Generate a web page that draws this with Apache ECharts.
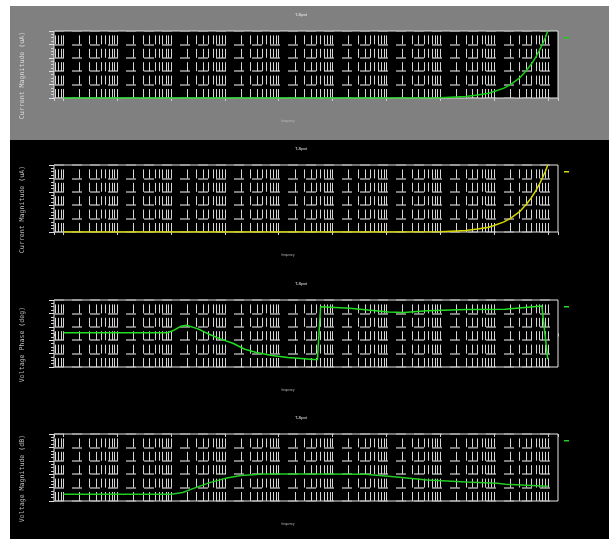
<!DOCTYPE html>
<html lang="en">
<head>
    <meta charset="UTF-8">
    <script type="text/javascript" src="https://cdn.jsdelivr.net/npm/echarts@6/dist/echarts.min.js"></script>
    <title>Port Response</title>
    <style>
        html, body { margin: 0; padding: 0; background: #ffffff; }
        #chart { width: 609px; height: 539px; }
    </style>
</head>
<body>
<div id="chart"></div>

<script>
    // frequency points (Hz) and values
    var freqCurrent = [1, 10, 100, 1e3, 1e4, 1e5, 1e6, 1e7, 3e7, 5e7, 8e7, 1e8, 1.5e8, 2e8, 3e8, 4e8, 5e8, 6e8, 7e8, 8e8, 9e8, 1e9];
    var currentMag1 = [0, 0, 0, 0, 0, 0, 0, 0.02, 0.12, 0.22, 0.35, 0.48, 0.72, 0.98, 1.5, 2.05, 2.55, 3.05, 3.55, 4.02, 4.5, 5.0];
    var currentMag2 = [0, 0, 0, 0, 0, 0, 0, 0.02, 0.12, 0.22, 0.36, 0.49, 0.74, 1.0, 1.52, 2.07, 2.58, 3.08, 3.58, 4.05, 4.52, 5.0];

    var freqPhase = [1, 10, 32, 85, 110, 151, 195, 316, 525, 871, 1413, 2344, 3890, 7586, 14791, 52481, 60256, 208930, 1.1e6, 2.14e6, 5.75e6, 3.09e7, 1.62e8, 7.76e8, 8.3e8, 1e9];
    var voltagePhase = [2, 2, 2, 2, 8.8, 21.5, 24.4, 13.8, -3, -17.6, -29, -47, -57, -65.7, -71.5, -78.5, 80, 75.6, 64, 62.6, 67.6, 71.5, 72.6, 82.4, 80, -76.5];

    var freqDb = [1, 100, 166, 270, 525, 1023, 1995, 5370, 39800, 407000, 1.1e6, 5.75e6, 3.09e7, 1.15e8, 1.62e8, 1e9];
    var voltageDb = [-44.9, -44.9, -43.6, -40.4, -36.3, -33.1, -30.9, -29.9, -29.9, -30.1, -31.6, -34.3, -35.8, -36.8, -37.5, -39.0];

    var yNames = ['Current Magnitude (uA)', 'Current Magnitude (uA)', 'Voltage Phase (deg)', 'Voltage Magnitude (dB)'];
    var yMin = [0, 0, -100, -50];
    var yMax = [5, 5, 100, 0];
    var yStep = [1, 1, 40, 10];

    var plotTitle = 'T-Spot';
    var xName = 'frequency';

    var freqMin = 0.67, freqMax = 1.55e9;

    // log grid lines at 1..9 of every decade
    var minorFreqs = [];
    for (var d = -1; d <= 9; d++) {
        for (var m = 1; m <= 9; m++) {
            var f = m * Math.pow(10, d);
            if (f > freqMin && f < freqMax) minorFreqs.push({xAxis: f});
        }
    }

    function pairs(xs, ys) {
        return xs.map(function (x, i) { return [x, ys[i]]; });
    }

    var tops = [31, 165, 300, 434];
    var lineColors = ['#18d018', '#d8d800', '#22dd22', '#22cc22'];
    var seriesNames = ['I1', 'I2', 'Vph', 'Vdb'];
    var seriesData = [
        pairs(freqCurrent, currentMag1),
        pairs(freqCurrent, currentMag2),
        pairs(freqPhase, voltagePhase),
        pairs(freqDb, voltageDb)
    ];

    var grids = [], xAxes = [], yAxes = [], series = [], titles = [], legends = [];

    for (var i = 0; i < 4; i++) {
        grids.push({
            left: 54, top: tops[i], width: 504, height: 67,
            show: true, backgroundColor: '#000', borderColor: '#e6e6e6', borderWidth: 1
        });
        xAxes.push({
            gridIndex: i, type: 'log', logBase: 10, min: freqMin, max: freqMax,
            name: xName, nameLocation: 'middle', nameGap: 22,
            nameTextStyle: {color: '#b8b8b8', fontSize: 3, padding: [0, 36, 0, 0]},
            axisLine: {show: false},
            axisTick: {show: true, length: 3, lineStyle: {color: '#cfcfcf'}},
            axisLabel: {show: false},
            splitLine: {show: false}
        });
        yAxes.push({
            gridIndex: i, type: 'value', min: yMin[i], max: yMax[i], interval: yStep[i],
            name: yNames[i], nameLocation: 'middle', nameGap: 28,
            nameTextStyle: {
                color: i === 0 ? '#d8d8d8' : '#bdbdbd', fontSize: 6.6,
                fontFamily: 'DejaVu Sans Mono', padding: [0, 22, 0, 0]
            },
            axisLine: {show: false},
            axisTick: {show: true, length: 5, lineStyle: {color: '#e0e0e0'}},
            minorTick: {show: true, splitNumber: 4, length: 3, lineStyle: {color: '#d0d0d0'}},
            axisLabel: {show: false},
            splitLine: {show: true, lineStyle: {color: '#a6a6a6', type: [10, 8], width: 1.6}}
        });
        series.push({
            name: seriesNames[i], type: 'line',
            xAxisIndex: i, yAxisIndex: i,
            data: seriesData[i],
            showSymbol: false, symbol: 'none',
            lineStyle: {color: lineColors[i], width: 1.5},
            itemStyle: {color: lineColors[i]},
            markLine: {
                silent: true, symbol: 'none', animation: false,
                label: {show: false},
                lineStyle: {color: '#d6d6d6', type: [9, 4.4], width: 1},
                data: minorFreqs
            },
            z: 5
        });
        titles.push({
            text: plotTitle, left: 290, top: tops[i] - 23,
            textStyle: {color: '#f0f0f0', fontSize: 4, fontWeight: 'normal'}
        });
        legends.push({
            data: [seriesNames[i]], left: 559, top: tops[i] + 1,
            icon: 'rect', itemWidth: 5, itemHeight: 1.5, itemGap: 0,
            formatter: function () { return ''; },
            textStyle: {fontSize: 1}
        });
    }

    var chart = echarts.init(document.getElementById('chart'));

    var option = {
        backgroundColor: '#ffffff',
        animation: false,
        graphic: [
            {type: 'rect', shape: {x: 10, y: 6, width: 599, height: 134}, style: {fill: '#808080'}, z: -10},
            {type: 'rect', shape: {x: 10, y: 140, width: 599, height: 399}, style: {fill: '#000000'}, z: -10}
        ],
        title: titles,
        legend: legends,
        grid: grids,
        xAxis: xAxes,
        yAxis: yAxes,
        series: series
    };

    chart.setOption(option);
</script>
</body>
</html>
